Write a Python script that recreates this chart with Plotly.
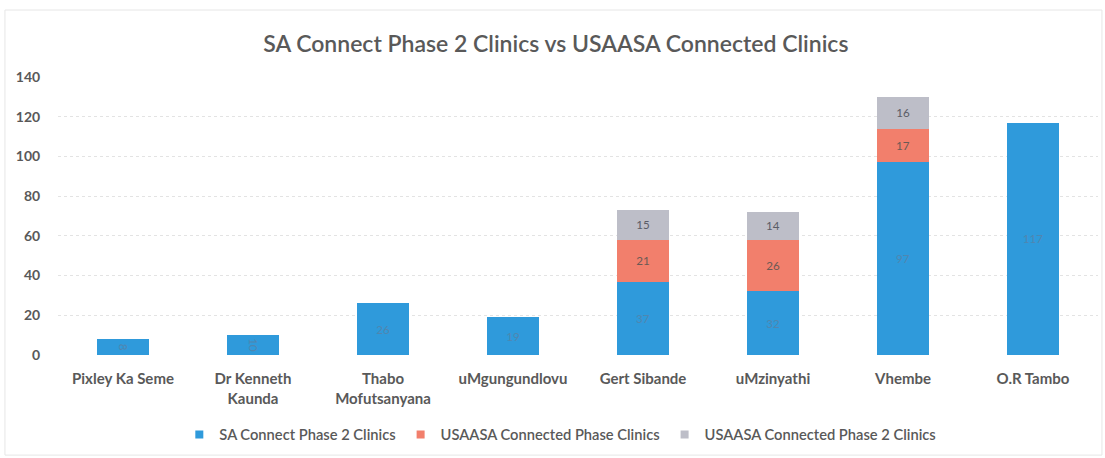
import plotly.graph_objects as go

# -- chart data
districts = ["Pixley Ka Seme", "Dr Kenneth<br>Kaunda", "Thabo<br>Mofutsanyana", "uMgungundlovu",
             "Gert Sibande", "uMzinyathi", "Vhembe", "O.R Tambo"]
sa_connect = [8, 10, 26, 19, 37, 32, 97, 117]
usaasa_phase = [None, None, None, None, 21, 26, 17, None]
usaasa_phase2 = [None, None, None, None, 15, 14, 16, None]

series = [
    ("SA Connect Phase 2 Clinics", sa_connect, "#2F9ADB", "#4F86B0"),
    ("USAASA Connected Phase Clinics", usaasa_phase, "#F27F6C", "#6B5A55"),
    ("USAASA Connected Phase 2 Clinics", usaasa_phase2, "#BDBEC8", "#5A5C66"),
]

font = "Lato, Open Sans, sans-serif"
fig = go.Figure()
for name, vals, col, txtcol in series:
    fig.add_trace(go.Bar(
        x=districts, y=vals, name=name, showlegend=False,
        marker=dict(color=col, line=dict(width=0)),
        text=vals, texttemplate="%{y}", textposition="inside",
        insidetextanchor="middle",
        textfont=dict(family=font, size=13, color=txtcol),
    ))
    # small square legend keys like the original
    fig.add_trace(go.Scatter(
        x=[None], y=[None], mode="markers", name=name,
        marker=dict(symbol="square", size=8, color=col),
    ))

fig.update_layout(
    barmode="stack",
    bargap=0.6,
    width=1105, height=458,
    margin=dict(l=58, r=7, t=77, b=103),
    paper_bgcolor="white", plot_bgcolor="white",
    title=dict(text="SA Connect Phase 2 Clinics vs USAASA Connected Clinics",
               x=0.503, xanchor="center", y=0.904, yanchor="middle",
               font=dict(family=font, size=23, color="#595959", weight=600)),
    legend=dict(orientation="h", x=0.483, xanchor="center", y=-0.288, yanchor="middle",
                font=dict(family=font, size=14.7, color="#595959", weight=600),
                traceorder="normal", itemwidth=30),
    showlegend=True,
    uniformtext=dict(minsize=8, mode="show"),
)
fig.update_xaxes(showgrid=False, showline=False, ticks="outside", ticklen=10,
                 tickcolor="white",
                 tickfont=dict(family=font, size=15, color="#595959", weight=700))
fig.update_yaxes(range=[0, 140], dtick=20, showgrid=True, gridcolor="#E3E3E3",
                 griddash="dot", zeroline=False, showline=False, ticks="outside",
                 ticklen=14, tickcolor="white",
                 tickfont=dict(family=font, size=14, color="#595959", weight=700))

# faint outer frame of the original chart
fig.add_shape(type="rect", xref="paper", yref="paper",
              x0=-0.051, x1=1.0038, y0=-0.36, y1=1.241,
              line=dict(color="#E6E6E6", width=1))

fig.write_html("out.html", config={"displayModeBar": False},
               post_script="document.body.style.margin='0px';")
